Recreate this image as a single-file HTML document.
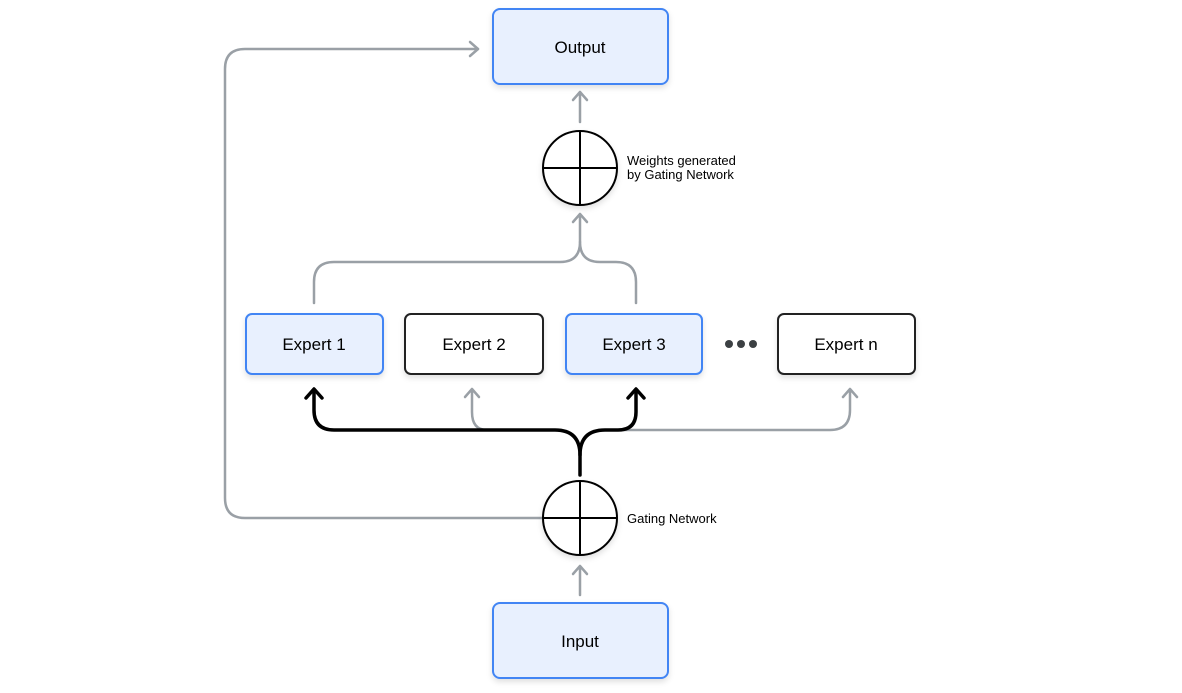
<!DOCTYPE html>
<html><head><style>
body{margin:0;background:#fff;width:1182px;height:688px;overflow:hidden;font-family:"Liberation Sans",sans-serif}
</style></head><body>
<svg width="1182" height="688" viewBox="0 0 1182 688" xmlns="http://www.w3.org/2000/svg">
<defs>
<filter id="sh" x="-20%" y="-20%" width="140%" height="150%"><feDropShadow dx="0" dy="3" stdDeviation="3" flood-color="#000" flood-opacity="0.12"/></filter>
</defs>
<g fill="none" stroke="#9aa0a6" stroke-width="2.5" stroke-linecap="round" stroke-linejoin="round">
<path d="M543 518 H245 Q225 518 225 498 V69 Q225 49 245 49 H478"/>
<path d="M470 42 L478 49 L470 56"/>
<path d="M580 122 V92 M573 100 L580 92 L587 100"/>
<path d="M314 303 V282 Q314 262 334 262 H560 Q580 262 580 242 Q580 262 600 262 H616 Q636 262 636 282 V303"/>
<path d="M580 242 V215 M573 222 L580 214 L587 222"/>
<path d="M487 430 Q472 430 472 412 V390 M465 397 L472 389 L479 397"/>
<path d="M620 430 H830 Q850 430 850 410 V390 M843 397 L850 389 L857 397"/>
<path d="M580 595 V566 M573 574 L580 566 L587 574"/>
</g>
<g fill="none" stroke="#000" stroke-width="3.5" stroke-linecap="round" stroke-linejoin="round">
<path d="M580 475 V455 Q580 430 555 430 H334 Q314 430 314 410 V390"/>
<path d="M580 455 Q580 430 605 430 H618 Q636 430 636 412 V390"/>
<path d="M306 398 L314 389 L322 398 M628 398 L636 389 L644 398"/>
</g>
<g filter="url(#sh)">
<rect x="493" y="9" width="175" height="75" rx="7" fill="#e8f0fe" stroke="#4285f4" stroke-width="2"/>
<rect x="493" y="603" width="175" height="75" rx="7" fill="#e8f0fe" stroke="#4285f4" stroke-width="2"/>
<rect x="246" y="314" width="137" height="60" rx="6" fill="#e8f0fe" stroke="#4285f4" stroke-width="2"/>
<rect x="405" y="314" width="138" height="60" rx="6" fill="#fff" stroke="#202124" stroke-width="2"/>
<rect x="566" y="314" width="136" height="60" rx="6" fill="#e8f0fe" stroke="#4285f4" stroke-width="2"/>
<rect x="778" y="314" width="137" height="60" rx="6" fill="#fff" stroke="#202124" stroke-width="2"/>
<circle cx="580" cy="168" r="37" fill="#fff" stroke="#000" stroke-width="2"/>
<circle cx="580" cy="518" r="37" fill="#fff" stroke="#000" stroke-width="2"/>
</g>
<g stroke="#000" stroke-width="2">
<path d="M543 168 H617 M580 131 V205"/>
<path d="M543 518 H617 M580 481 V555"/>
</g>
<g fill="#3c4043"><circle cx="729" cy="344" r="4"/><circle cx="741" cy="344" r="4"/><circle cx="753" cy="344" r="4"/></g>
<g font-family="Liberation Sans, sans-serif" fill="#000" text-anchor="middle" font-size="17">
<text x="580" y="53">Output</text>
<text x="580" y="647">Input</text>
<text x="314" y="350">Expert 1</text>
<text x="474" y="350">Expert 2</text>
<text x="634" y="350">Expert 3</text>
<text x="846" y="350">Expert n</text>
</g>
<g font-family="Liberation Sans, sans-serif" fill="#000" font-size="13">
<text x="627" y="165">Weights generated</text>
<text x="627" y="179">by Gating Network</text>
<text x="627" y="523">Gating Network</text>
</g>
</svg>
</body></html>
